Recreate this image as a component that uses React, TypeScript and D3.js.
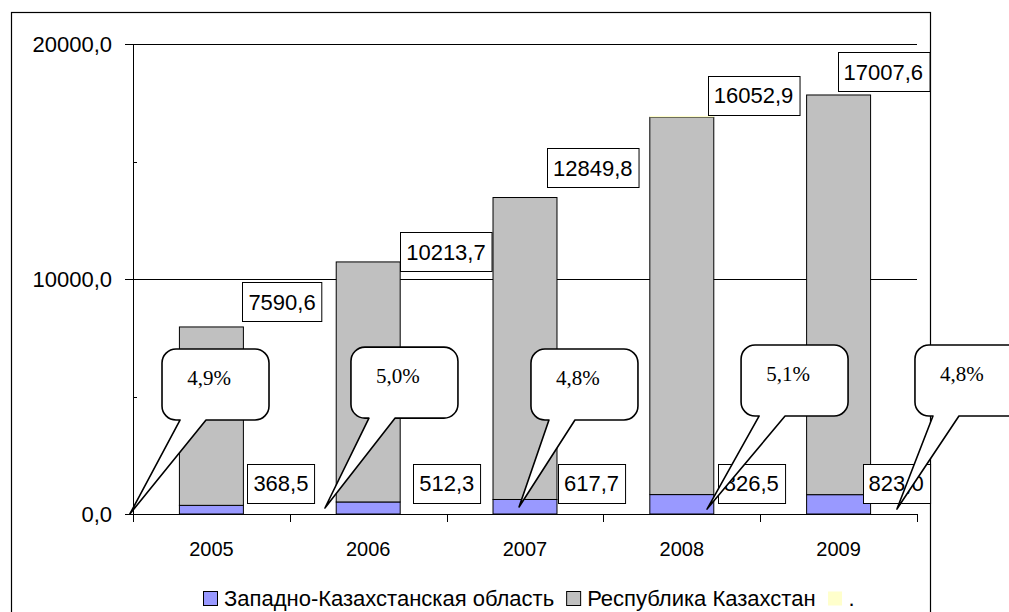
import { useEffect, useRef } from "react";
import * as d3 from "d3";

// years on the x axis
const categories = ["2005", "2006", "2007", "2008", "2009"];
// Западно-Казахстанская область (bottom segment)
const regionValues = [368.5, 512.3, 617.7, 826.5, 823.0];
// Республика Казахстан (stacked on top)
const republicValues = [7590.6, 10213.7, 12849.8, 16052.9, 17007.6];
// third, almost invisible series
const otherValues = [0, 0, 0, 60, 0];
// share of the region, shown in callouts
const shareLabels = ["4,9%", "5,0%", "4,8%", "5,1%", "4,8%"];
const yTicks = [0, 5000, 10000, 15000, 20000];
const yMajor = [0, 10000, 20000];
const legendLabels = ["Западно-Казахстанская область", "Республика Казахстан", "."];
const legendColors = ["#9999FF", "#C0C0C0", "#FFFFCC"];

// hand-placed label / callout layout (pixel nudges and anchors in axis units)
const repNudge: [number, number][] = [[-1, -25], [0, -10], [-10, -30], [-6, -22], [-33, -23]];
const regNudge = [4, 13, 1, 4, -8];
const calloutBox: [number, number][] = [[0.185, 7020], [1.39, 7100], [2.538, 7020], [3.878, 7190], [4.987, 7190]];
const calloutTip: [number, number][] = [[-0.02, 0], [1.224, 255], [2.462, 300], [3.661, 210], [4.872, 210]];

const fmt = (v: number) => v.toFixed(1).replace(".", ",");

export default function App() {
  const svgRef = useRef<SVGSVGElement>(null);

  useEffect(() => {
    if (!svgRef.current) return;
    document.body.style.margin = "0";
    const svg = d3.select(svgRef.current);
    svg.selectAll("*").remove();

    const left = 133, right = 917, top = 44, bottom = 514;
    const sans = "'Liberation Sans', Arial, sans-serif";
    const serif = "'Liberation Serif', 'Times New Roman', serif";

    const x = d3.scaleBand<string>().domain(categories).range([left, right])
      .paddingInner(0.592).paddingOuter(0.296);
    const xi = d3.scaleLinear().domain([0, categories.length]).range([left, right]);
    const y = d3.scaleLinear().domain([0, 20000]).range([bottom, top]);

    // outer frame
    svg.append("rect").attr("x", 11.5).attr("y", 12.5).attr("width", 919).attr("height", 640)
      .attr("fill", "white").attr("stroke", "#000").attr("stroke-width", 1.2);

    // gridlines
    svg.append("g").selectAll("line").data(yMajor.filter(d => d > 0)).join("line")
      .attr("x1", left).attr("x2", right)
      .attr("y1", d => Math.round(y(d)) + 0.5).attr("y2", d => Math.round(y(d)) + 0.5)
      .attr("stroke", "#000");

    // stacked bars
    const rows = categories.map((c, i) => ({ c, region: regionValues[i], rep: republicValues[i], other: otherValues[i] }));
    const stack = d3.stack<any>().keys(["region", "rep", "other"])(rows);
    const fills = ["#9999FF", "#C0C0C0", "#FFFFCC"];
    stack.forEach((layer, li) => {
      svg.append("g").selectAll("rect").data(layer).join("rect")
        .attr("x", d => x(d.data.c)!)
        .attr("width", x.bandwidth())
        .attr("y", d => y(d[1]))
        .attr("height", d => y(d[0]) - y(d[1]))
        .attr("fill", fills[li])
        .attr("stroke", li === 2 ? "none" : "#000")
        .attr("stroke-width", 1);
    });

    // y axis
    const ya = svg.append("g");
    ya.append("line").attr("x1", left + 0.5).attr("x2", left + 0.5).attr("y1", top).attr("y2", bottom + 8).attr("stroke", "#000");
    ya.selectAll("line.t").data(yTicks).join("line").attr("class", "t")
      .attr("x1", d => yMajor.includes(d) ? left - 8 : left)
      .attr("x2", d => yMajor.includes(d) ? left : left + 4)
      .attr("y1", d => Math.round(y(d)) + 0.5).attr("y2", d => Math.round(y(d)) + 0.5)
      .attr("stroke", "#000");
    ya.selectAll("text").data(yMajor).join("text")
      .attr("x", left - 21).attr("y", d => y(d) + 8)
      .attr("text-anchor", "end").attr("font-family", sans).attr("font-size", 22)
      .text(d => fmt(d));

    // x axis
    const xa = svg.append("g");
    xa.append("line").attr("x1", left).attr("x2", right).attr("y1", bottom + 0.5).attr("y2", bottom + 0.5).attr("stroke", "#000");
    xa.selectAll("line.t").data(d3.range(categories.length + 1)).join("line").attr("class", "t")
      .attr("x1", d => Math.round(xi(d)) + 0.5).attr("x2", d => Math.round(xi(d)) + 0.5)
      .attr("y1", bottom).attr("y2", bottom + 8).attr("stroke", "#000");
    xa.selectAll("text").data(categories).join("text")
      .attr("x", d => x(d)! + x.bandwidth() / 2).attr("y", 556)
      .attr("text-anchor", "middle").attr("font-family", sans).attr("font-size", 20)
      .text(d => d);

    // value label boxes
    const labelBox = (g: any, txt: string, lx: number, cy: number) => {
      const t = g.append("text").attr("font-family", sans).attr("font-size", 22).text(txt);
      const w = (t.node() as SVGTextElement).getComputedTextLength() + 12;
      const h = 39;
      g.insert("rect", "text").attr("x", Math.round(lx) + 0.5).attr("y", Math.round(cy - h / 2) + 0.5)
        .attr("width", w).attr("height", h).attr("fill", "white").attr("stroke", "#000");
      t.attr("x", lx + 6).attr("y", cy + 8);
    };
    rows.forEach((r, i) => {
      const barRight = x(r.c)! + x.bandwidth();
      const topY = y(r.region + r.rep);
      labelBox(svg.append("g"), fmt(r.rep), barRight + repNudge[i][0], topY + repNudge[i][1]);
      labelBox(svg.append("g"), fmt(r.region), barRight + regNudge[i], y(0) - 31);
    });

    // callouts
    const cw = 107, ch = 71, rr = 14;
    shareLabels.forEach((s, i) => {
      const bx = xi(calloutBox[i][0]), by = y(calloutBox[i][1]);
      const tx = xi(calloutTip[i][0]), ty = y(calloutTip[i][1]);
      const p = d3.path();
      p.moveTo(bx + rr, by);
      p.lineTo(bx + cw - rr, by);
      p.arcTo(bx + cw, by, bx + cw, by + rr, rr);
      p.lineTo(bx + cw, by + ch - rr);
      p.arcTo(bx + cw, by + ch, bx + cw - rr, by + ch, rr);
      p.lineTo(bx + 44, by + ch);
      p.lineTo(tx, ty);
      p.lineTo(bx + 18, by + ch);
      p.lineTo(bx + rr, by + ch);
      p.arcTo(bx, by + ch, bx, by + ch - rr, rr);
      p.lineTo(bx, by + rr);
      p.arcTo(bx, by, bx + rr, by, rr);
      p.closePath();
      svg.append("path").attr("d", p.toString()).attr("fill", "white")
        .attr("stroke", "#000").attr("stroke-width", 1.6).attr("stroke-linejoin", "round");
      svg.append("text").attr("x", bx + 47).attr("y", by + 36)
        .attr("text-anchor", "middle").attr("font-family", serif).attr("font-size", 21)
        .text(s);
    });

    // legend
    const lg = svg.append("g");
    let lx = 203;
    legendLabels.forEach((lab, i) => {
      lg.append("rect").attr("x", lx + 0.5).attr("y", 591.5).attr("width", 14).attr("height", 14)
        .attr("fill", legendColors[i]).attr("stroke", i === 2 ? "none" : "#000");
      const t = lg.append("text").attr("x", lx + 21).attr("y", 606)
        .attr("font-family", sans).attr("font-size", 22).text(lab);
      lx += 21 + (t.node() as SVGTextElement).getComputedTextLength() + 12;
    });
  }, []);

  return <svg ref={svgRef} width={1009} height={612} style={{ display: "block" }} />;
}
